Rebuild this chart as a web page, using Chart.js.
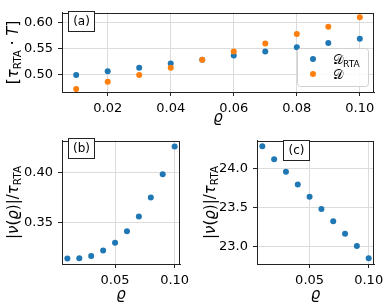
<!DOCTYPE html>
<html>
<head>
<meta charset="utf-8">
<script src="https://cdn.jsdelivr.net/npm/chart.js@4.4.1/dist/chart.umd.min.js"></script>
<style>
  html, body { margin: 0; padding: 0; background: #fff; }
  body { width: 391px; height: 307px; position: relative; overflow: hidden; }
  canvas { position: absolute; }
</style>
</head>
<body>
<canvas id="chartA" width="391" height="130" style="left:0;top:0"></canvas>
<canvas id="chartB" width="195" height="179" style="left:0;top:128px"></canvas>
<canvas id="chartC" width="196" height="179" style="left:195px;top:128px"></canvas>
<script>
// data
const rho = [0.01, 0.02, 0.03, 0.04, 0.05, 0.06, 0.07, 0.08, 0.09, 0.10];
const dRta = [0.500, 0.507, 0.514, 0.522, 0.529, 0.537, 0.545, 0.553, 0.561, 0.569];
const dFull = [0.473, 0.487, 0.500, 0.514, 0.529, 0.545, 0.560, 0.578, 0.592, 0.610];
const nuRelB = [0.3145, 0.3147, 0.3170, 0.3224, 0.3302, 0.3415, 0.3563, 0.3752, 0.3985, 0.4261];
const nuRelC = [24.293, 24.126, 23.963, 23.800, 23.643, 23.484, 23.326, 23.167, 23.008, 22.850];

const ticksAX = [0.02, 0.04, 0.06, 0.08, 0.10];
const ticksAY = [0.50, 0.55, 0.60];
const ticksBX = [0.05, 0.10];
const ticksBY = [0.35, 0.40];
const ticksCY = [23.0, 23.5, 24.0];

const BLUE = "#1f77b4";
const ORANGE = "#ff7f0e";
const FONT = '"DejaVu Sans"';

// rich text pieces (subscripts / italics)
const titleAY = [{ t: "[" }, { t: "τ", it: true }, { t: "RTA", sub: true }, { t: " · " }, { t: "T", it: true }, { t: "]" }];
const titleNu = [{ t: "|" }, { t: "ν", it: true }, { t: "(" }, { t: "ϱ", it: true }, { t: ")|/" }, { t: "τ", it: true }, { t: "RTA", sub: true }];
const titleRho = [{ t: "ϱ", it: true }];
const legendA = [
  { color: BLUE, segs: [{ t: "𝒟" }, { t: "RTA", sub: true }] },
  { color: ORANGE, segs: [{ t: "𝒟" }] },
];

function segFont(seg, size) {
  const s = seg.sub ? size * 0.7 : size;
  return (seg.it ? "italic " : "") + s + "px " + FONT;
}

function drawRich(ctx, segs, x, y, size, align) {
  let w = 0;
  segs.forEach((s) => { ctx.font = segFont(s, size); w += ctx.measureText(s.t).width; });
  let cx = align === "center" ? x - w / 2 : x;
  ctx.textAlign = "left";
  ctx.textBaseline = "alphabetic";
  ctx.fillStyle = "#000";
  segs.forEach((s) => {
    ctx.font = segFont(s, size);
    ctx.fillText(s.t, cx, y + (s.sub ? size * 0.22 : 0));
    cx += ctx.measureText(s.t).width;
  });
}

// spines, axis titles, panel tag and legend
const decor = {
  id: "decor",
  afterDraw(chart, args, o) {
    const { ctx, chartArea: a } = chart;
    ctx.save();
    ctx.strokeStyle = "#222";
    ctx.lineWidth = 1;
    ctx.strokeRect(Math.round(a.left) + 0.5, Math.round(a.top) + 0.5, Math.round(a.right - a.left) - 1, Math.round(a.bottom - a.top));

    drawRich(ctx, o.xTitle, (a.left + a.right) / 2, a.bottom + o.xTitleDy, 15, "center");

    ctx.save();
    ctx.translate(o.yTitleX, (a.top + a.bottom) / 2);
    ctx.rotate(-Math.PI / 2);
    drawRich(ctx, o.yTitle, 0, 5, 15, "center");
    ctx.restore();

    const [tx, ty] = o.tag.pos;
    ctx.fillStyle = "#fff";
    ctx.fillRect(tx, ty, 27, 21);
    ctx.strokeStyle = "#222";
    ctx.strokeRect(tx + 0.5, ty + 0.5, 26, 20);
    ctx.fillStyle = "#000";
    ctx.font = "12px " + FONT;
    ctx.textAlign = "center";
    ctx.textBaseline = "middle";
    ctx.fillText(o.tag.text, tx + 13.5, ty + 11);

    if (o.legend) {
      const L = o.legend;
      ctx.fillStyle = "rgba(255,255,255,0.85)";
      ctx.strokeStyle = "#d0d0d0";
      ctx.beginPath();
      ctx.roundRect(L.x + 0.5, L.y + 0.5, L.w, L.h, 3);
      ctx.fill();
      ctx.stroke();
      L.items.forEach((it, i) => {
        const y = L.y + 11 + i * 15;
        ctx.fillStyle = it.color;
        ctx.beginPath();
        ctx.arc(L.x + 16, y, 3, 0, Math.PI * 2);
        ctx.fill();
        drawRich(ctx, it.segs, L.x + 36, y + 5, 13, "left");
      });
    }
    ctx.restore();
  },
};

function axis(min, max, ticks, digits, fitKey, fitSize, pad) {
  return {
    type: "linear",
    min,
    max,
    afterBuildTicks: (s) => { s.ticks = ticks.map((v) => ({ value: v })); },
    afterFit: (s) => { s[fitKey] = fitSize; },
    ticks: {
      color: "#000",
      font: { family: "DejaVu Sans", size: 13 },
      padding: pad,
      maxRotation: 0,
      autoSkip: false,
      callback: (v) => Number(v).toFixed(digits),
    },
    grid: { color: "#dcdcdc", lineWidth: 1, tickLength: 4, tickColor: "#222" },
    border: { color: "#222", width: 1 },
  };
}

function makeChart(id, datasets, cfg) {
  return new Chart(document.getElementById(id).getContext("2d"), {
    type: "scatter",
    data: { datasets },
    options: {
      responsive: false,
      animation: false,
      events: [],
      layout: { padding: cfg.padding },
      plugins: { legend: { display: false }, tooltip: { enabled: false }, decor: cfg.decor },
      scales: {
        x: axis(0.0055, 0.1045, cfg.xTicks, 2, "height", cfg.xHeight, 5),
        y: axis(cfg.yMin, cfg.yMax, cfg.yTicks, cfg.yDigits, "width", 62, 5),
      },
    },
    plugins: [decor],
  });
}

function points(ys) {
  return rho.map((x, i) => ({ x, y: ys[i] }));
}

function dots(ys, color, order) {
  return { data: points(ys), backgroundColor: color, borderWidth: 0, pointRadius: 3, order };
}

makeChart("chartA", [dots(dRta, BLUE, 1), dots(dFull, ORANGE, 0)], {
  padding: { top: 5, right: 17, left: 0, bottom: 0 },
  xHeight: 38,
  xTicks: ticksAX,
  yTicks: ticksAY,
  yMin: 0.4675,
  yMax: 0.6186,
  yDigits: 2,
  decor: {
    xTitle: titleRho,
    xTitleDy: 30,
    yTitle: titleAY,
    yTitleX: 13,
    tag: { text: "(a)", pos: [68, 11] },
    legend: { x: 297, y: 48, w: 71, h: 38, items: legendA },
  },
});

makeChart("chartB", [dots(nuRelB, BLUE, 0)], {
  padding: { top: 6, right: 15, left: 0, bottom: 0 },
  xHeight: 43,
  xTicks: ticksBX,
  yTicks: ticksBY,
  yMin: 0.3089,
  yMax: 0.4318,
  yDigits: 2,
  decor: {
    xTitle: titleRho,
    xTitleDy: 35,
    yTitle: titleNu,
    yTitleX: 13,
    tag: { text: "(b)", pos: [68, 10] },
  },
});

makeChart("chartC", [dots(nuRelC, BLUE, 0)], {
  padding: { top: 6, right: 17, left: 0, bottom: 0 },
  xHeight: 43,
  xTicks: ticksBX,
  yTicks: ticksCY,
  yMin: 22.777,
  yMax: 24.362,
  yDigits: 1,
  decor: {
    xTitle: titleRho,
    xTitleDy: 35,
    yTitle: titleNu,
    yTitleX: 15,
    tag: { text: "(c)", pos: [88, 12] },
  },
});
</script>
</body>
</html>
